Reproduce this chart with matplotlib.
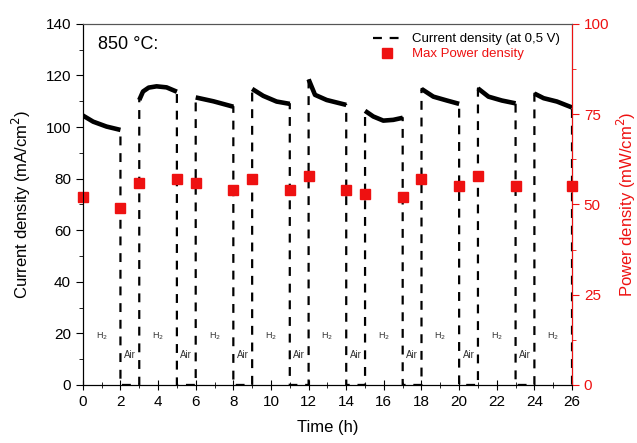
import numpy as np
from matplotlib import pyplot as plt
from matplotlib.ticker import MultipleLocator

plt.rcParams['font.family'] = ['Liberation Sans', 'DejaVu Sans']

# Current density at 0.5 V during the H2 periods
h2_times = [
    [0.0, 0.55, 1.26, 2.0],
    [3.0, 3.2, 3.5, 3.92, 4.45, 5.0],
    [6.0, 6.94, 8.0],
    [9.0, 9.59, 10.3, 11.0],
    [12.0, 12.34, 12.96, 14.0],
    [15.0, 15.44, 15.97, 16.5, 17.0],
    [18.0, 18.63, 19.35, 20.0],
    [21.0, 21.56, 22.27, 23.0],
    [24.0, 24.49, 25.2, 26.0],
]
h2_current = [
    [104.5, 102.1, 100.2, 98.9],
    [110.5, 113.8, 115.3, 115.8, 115.4, 113.7],
    [111.5, 110.0, 107.9],
    [114.8, 112.1, 109.9, 109.0],
    [118.5, 112.5, 110.5, 108.6],
    [106.3, 104.1, 102.5, 102.8, 103.6],
    [114.8, 111.8, 110.3, 109.0],
    [115.0, 111.8, 110.3, 109.2],
    [113.0, 111.2, 109.9, 107.6],
]

# Max power density (right axis)
mpd_time = [0, 2, 3, 5, 6, 8, 9, 11, 12, 14, 15, 17, 18, 20, 21, 23, 26]
mpd_value = [52, 49, 56, 57, 56, 54, 57, 54, 58, 54, 53, 52, 57, 55, 58, 55, 55]

# Gas labels
h2_label_x = [1, 4, 7, 10, 13, 16, 19, 22, 25]
air_label_x = [2.5, 5.5, 8.5, 11.5, 14.5, 17.5, 20.5, 23.5]

# Build the full current series: H2 segments joined by zero during air
full_t, full_j = [], []
for t, j in zip(h2_times, h2_current):
    full_t += [t[0]] + t + [t[-1]]
    full_j += [0] + j + [0]

fig = plt.figure(figsize=(6.37, 4.43), dpi=100)
ax1 = fig.add_axes([0.130, 0.131, 0.768, 0.815])

ax1.plot(full_t, full_j, color='black', lw=1.6, ls=(0, (4, 3.5)),
         label='Current density (at 0,5 V)')
for t, j in zip(h2_times, h2_current):
    ax1.plot(t, j, color='black', lw=3.3, solid_capstyle='butt')

ax1.set_xlim(0, 26)
ax1.set_ylim(0, 140)
ax1.xaxis.set_major_locator(MultipleLocator(2))
ax1.xaxis.set_minor_locator(MultipleLocator(1))
ax1.yaxis.set_major_locator(MultipleLocator(20))
ax1.yaxis.set_minor_locator(MultipleLocator(10))
ax1.tick_params(axis='x', which='both', direction='inout', labelsize=11)
ax1.tick_params(axis='x', which='major', length=7)
ax1.tick_params(axis='x', which='minor', length=4)
ax1.tick_params(axis='y', which='major', direction='out', length=5, labelsize=11)
ax1.tick_params(axis='y', which='minor', direction='out', length=3)
ax1.set_xlabel('Time (h)', fontsize=12, labelpad=8)
ax1.set_ylabel('Current density (mA/cm$^2$)', fontsize=12, labelpad=9)
ax1.spines['top'].set_color('#555555')

for x in h2_label_x:
    ax1.text(x, 19, 'H$_2$', fontsize=6.5, color='#333333', ha='center', va='center')
for x in air_label_x:
    ax1.text(x, 11.5, 'Air', fontsize=7, color='#333333', ha='center', va='center')

ax1.text(0.8, 132, '850 °C:', fontsize=13, ha='left', va='center')

ax2 = ax1.twinx()
ax2.plot(mpd_time, mpd_value, 's', color='#ee1111', ms=7, ls='none',
         label='Max Power density', clip_on=False)
ax2.set_ylim(0, 100)
ax2.yaxis.set_major_locator(MultipleLocator(25))
ax2.yaxis.set_minor_locator(MultipleLocator(12.5))
ax2.tick_params(axis='y', which='both', colors='#ee1111', direction='out', labelsize=11)
ax2.tick_params(axis='y', which='major', length=5)
ax2.tick_params(axis='y', which='minor', length=3)
ax2.spines['right'].set_color('#ee1111')
ax2.spines['top'].set_color('#555555')
ax2.set_ylabel('Power density (mW/cm$^2$)', color='#ee1111', fontsize=12)

h1, l1 = ax1.get_legend_handles_labels()
h2, l2 = ax2.get_legend_handles_labels()
leg = ax2.legend(h1 + h2, l1 + l2, loc='upper right', frameon=False,
                 fontsize=9.5, handlelength=2.2, borderaxespad=0.3,
                 labelspacing=0.2, bbox_to_anchor=(0.995, 1.0))
leg.get_texts()[1].set_color('#ee1111')

fig.savefig('out.png')
